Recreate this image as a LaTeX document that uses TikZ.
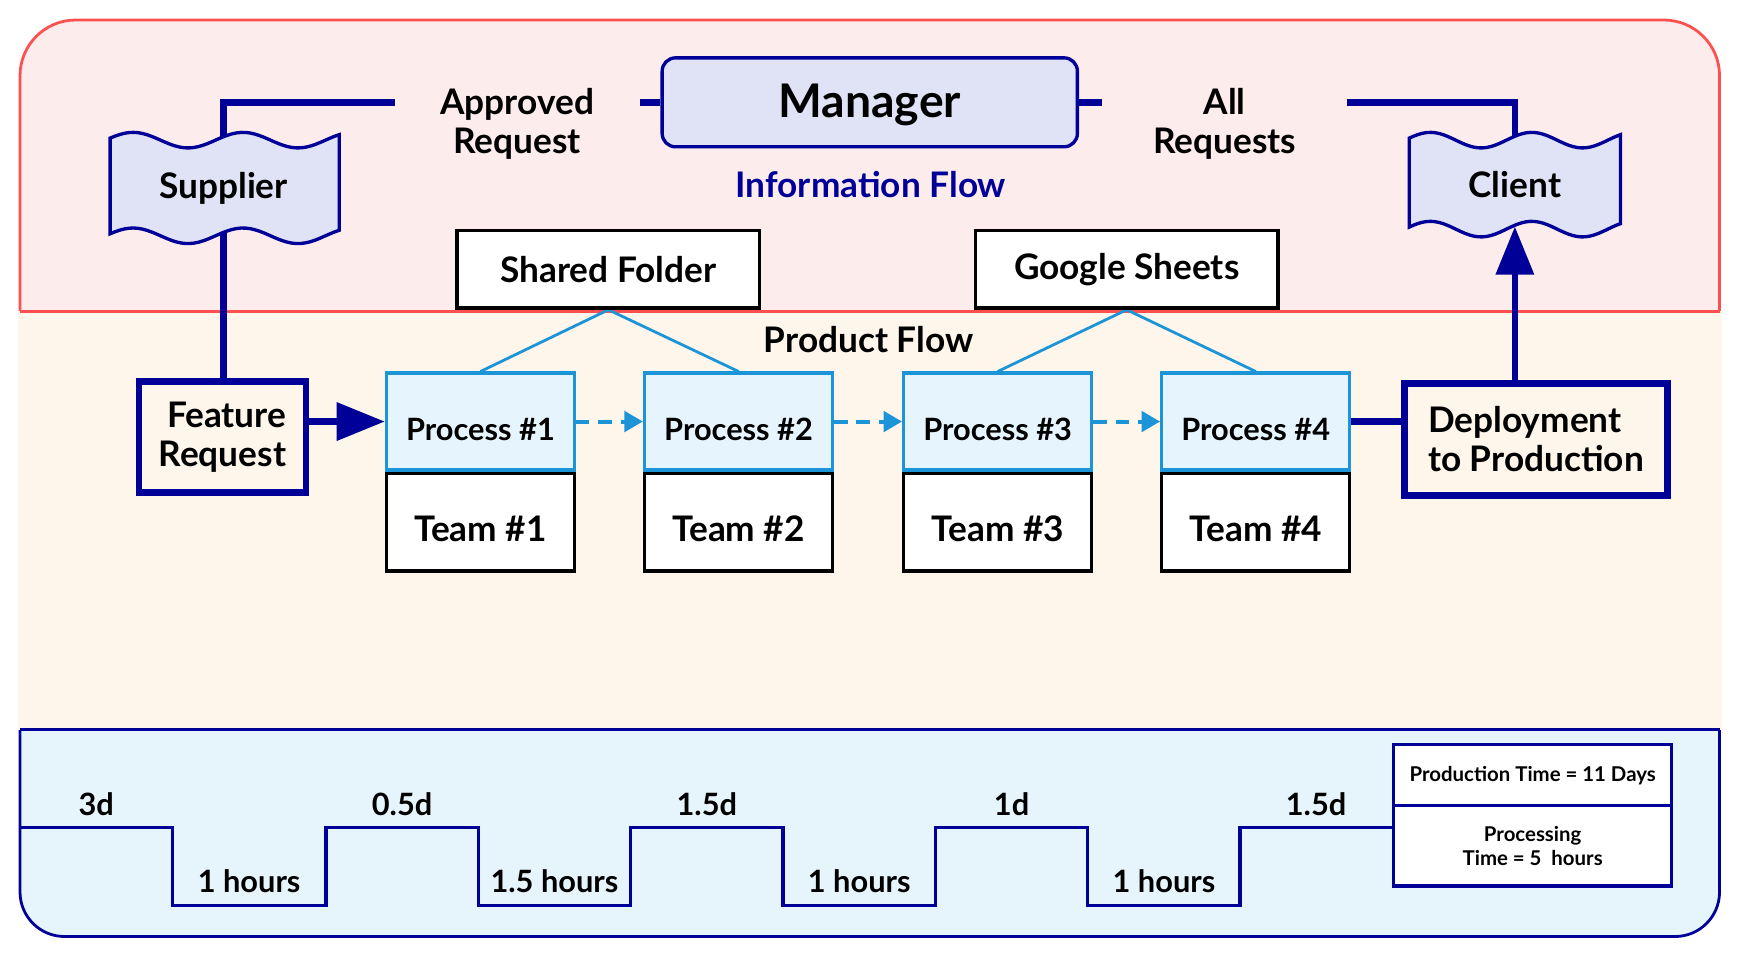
\documentclass[tikz,border=0pt]{standalone}
\usepackage{fontspec}
\setmainfont{Lato}
\usetikzlibrary{positioning,arrows.meta}
\definecolor{navy}{HTML}{000099}
\definecolor{procblue}{HTML}{1B95D8}
\definecolor{procfill}{HTML}{E6F5FD}
\definecolor{redline}{HTML}{FF5050}
\definecolor{pinkbg}{HTML}{FDECEC}
\definecolor{creambg}{HTML}{FEF6EA}
\definecolor{bluebg}{HTML}{E6F4FC}
\definecolor{lavender}{HTML}{DFE3F5}
\pgfdeclarelayer{panel}
\pgfdeclarelayer{back}
\pgfsetlayers{panel,back,main}
% wavy flag: center, half width, half height
\newcommand{\flag}[3]{%
   \filldraw[navy, line width=0.9pt, fill=lavender, shift={(#1)}]
      plot[domain=-#2:#2, samples=50] (\x, {-#3 - 7*cos(360*((\x+#2)/(2*#2)-0.1)/0.48)})
      -- plot[domain=#2:-#2, samples=50] (\x, {#3 - 7*cos(360*((\x+#2)/(2*#2)-0.1)/0.48)})
      -- cycle;}

\begin{document}
\begin{tikzpicture}[x=0.3pt, y=-0.3pt,
   lbl/.style={font=\fontsize{9.5}{10.5}\selectfont\bfseries, align=center},
   mgr/.style={draw=navy, line width=0.9pt, fill=lavender, rounded corners=3.6pt,
      minimum width=112pt, minimum height=24pt, text height=0.8em, text depth=0pt,
      font=\fontsize{12.5}{14}\selectfont\bfseries},
   flagtxt/.style={lbl, minimum width=50pt, minimum height=22.2pt},
   store/.style={lbl, draw, line width=0.9pt, fill=white, minimum width=81.6pt, minimum height=21pt},
   proc/.style={draw=procblue, line width=0.9pt, fill=procfill, minimum width=50.7pt,
      minimum height=26.1pt, text height=1em, text depth=0pt, font=\fontsize{8.3}{10}\selectfont\bfseries},
   team/.style={lbl, draw, line width=0.9pt, fill=white, minimum width=50.7pt, minimum height=26.4pt,
      text height=1.05em, text depth=0pt},
   endbox/.style={lbl, draw=navy, line width=1.8pt, fill=creambg},
   gap/.style={lbl, text=black, fill=pinkbg, inner xsep=0pt, minimum width=66pt, yshift=-5.7pt},
   bigflow/.style={navy, line width=1.8pt},
   bigarrow/.style={bigflow, -{Triangle[length=13pt, width=10pt]}},
   dasharrow/.style={procblue, line width=1.1pt, dash pattern=on 3.6pt off 2.4pt,
      -{Triangle[length=5pt, width=5.5pt]}},
   shareline/.style={procblue, line width=0.75pt},
   stepline/.style={navy, line width=0.9pt},
   steplbl/.style={above=-0.5pt, text=black, font=\fontsize{8.3}{10}\selectfont\bfseries},
   timebox/.style={draw=navy, line width=0.9pt, fill=white, minimum width=75pt, align=center,
      font=\fontsize{5.5}{6.6}\selectfont\bfseries}]
   \useasboundingbox (0,0) rectangle (1568,860);

   \begin{pgfonlayer}{panel}
   \filldraw[navy, line width=0.75pt, fill=bluebg, rounded corners=12pt] (18,600) -- (18,842) -- (1546,842) -- (1546,600);
   \filldraw[redline, line width=0.75pt, fill=pinkbg, rounded corners=15pt] (18,330) -- (18,18) -- (1546,18) -- (1546,330);
   \fill[creambg] (16,280) rectangle (1548,656);
   \draw[redline, line width=0.75pt] (18,280) -- (1546,280);
   \draw[navy, line width=0.75pt] (18,656) -- (1546,656);
   \end{pgfonlayer}

   \flag{202,169}{103}{43}
   \flag{1362,166}{95}{40}
   \node[mgr] (manager) at (782,92) {Manager};
   \node[lbl, text=navy] (infoflow) at (783,166) {Information Flow};
   \node[flagtxt] (supplier) at (201,169) {Supplier};
   \node[flagtxt] (client) at (1362,166) {Client};
   \node[store] (folder) at (547,242) {Shared Folder};
   \node[store] (sheets) at (1013,242) {Google Sheets};
   \node[lbl] (prodflow) at (781,305) {Product Flow};

   \node[endbox, align=right, minimum width=45pt, minimum height=30pt] (feature) at (200,393) {Feature\\Request};
   \node[proc] (p1) at (432,379) {Process \#1};
   \node[proc] (p2) at (664,379) {Process \#2};
   \node[proc] (p3) at (897,379) {Process \#3};
   \node[proc] (p4) at (1129,379) {Process \#4};
   \node[team, below=0pt of p1] (team1) {Team \#1};
   \node[team, below=0pt of p2] (team2) {Team \#2};
   \node[team, below=0pt of p3] (team3) {Team \#3};
   \node[team, below=0pt of p4] (team4) {Team \#4};
   \node[endbox, align=left, minimum width=71.1pt, minimum height=30.3pt] (deploy) at (1381,395) {Deployment\\to Production};

   \begin{pgfonlayer}{back}
   \draw[bigflow] (supplier.center) |- node[pos=0.836, gap] (approved) {Approved\\Request} (manager.west);
   \draw[bigflow] (manager.east) -| node[pos=0.167, gap] (allreq) {All\\Requests} (client.center);
   \draw[bigflow] (supplier.center) -- (supplier.center |- feature.north);
   \draw[bigarrow] (feature.east |- p1.west) -- (p1.west);
   \draw[dasharrow] (p1) -- (p2);
   \draw[dasharrow] (p2) -- (p3);
   \draw[dasharrow] (p3) -- (p4);
   \draw[shareline] (folder.south) -- (p1.north);
   \draw[shareline] (folder.south) -- (p2.north);
   \draw[shareline] (sheets.south) -- (p3.north);
   \draw[shareline] (sheets.south) -- (p4.north);
   \draw[bigflow] (p4.east) -- (deploy.west |- p4.east);
   \draw[bigarrow] (deploy.north -| client.south) -- (client.south);
   \end{pgfonlayer}

   \node[timebox, minimum height=16.5pt] (prodtime) at (1378,697) {Production Time = 11 Days};
   \node[timebox, minimum height=21.6pt, below=-0.9pt of prodtime] (proctime) {Processing\\Time = 5\ \ hours};
   \draw[stepline] (18,744) -- node[steplbl] (d1) {3d} (155,744) -- (155,814)
      -- node[steplbl] (h1) {1 hours} (293,814) -- (293,744)
      -- node[steplbl] (d2) {0.5d} (430,744) -- (430,814)
      -- node[steplbl] (h2) {1.5 hours} (567,814) -- (567,744)
      -- node[steplbl] (d3) {1.5d} (704,744) -- (704,814)
      -- node[steplbl] (h3) {1 hours} (841,814) -- (841,744)
      -- node[steplbl] (d4) {1d} (978,744) -- (978,814)
      -- node[steplbl] (h4) {1 hours} (1115,814) -- (1115,744)
      -- node[steplbl] (d5) {1.5d} (proctime.west |- 0,744);
\end{tikzpicture}
\end{document}
